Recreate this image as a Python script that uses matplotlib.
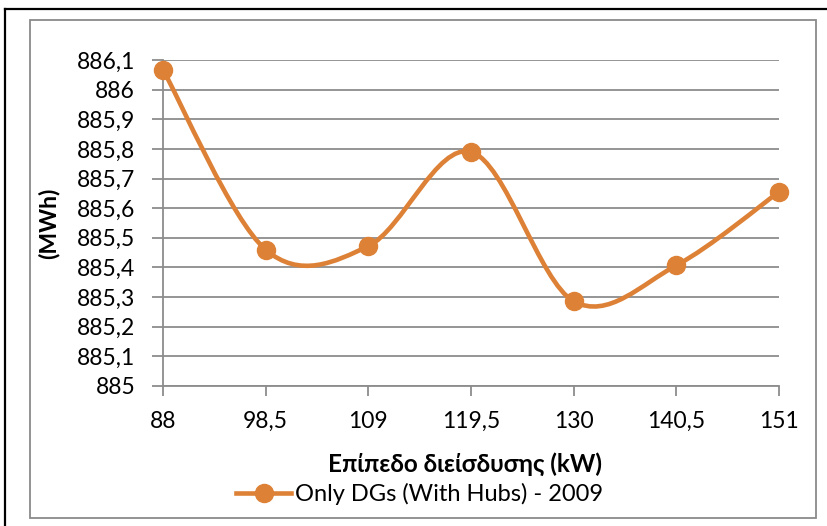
import matplotlib
matplotlib.use("Agg")
import matplotlib.pyplot as plt
from matplotlib.path import Path
from matplotlib.patches import PathPatch, Rectangle
from matplotlib.lines import Line2D
import numpy as np

categories = ["88", "98,5", "109", "119,5", "130", "140,5", "151"]
values = [886.067, 885.460, 885.472, 885.790, 885.286, 885.407, 885.655]
series_name = "Only DGs (With Hubs) - 2009"
y_ticks = [885.0, 885.1, 885.2, 885.3, 885.4, 885.5, 885.6, 885.7, 885.8, 885.9, 886.0, 886.1]
y_tick_labels = ["885", "885,1", "885,2", "885,3", "885,4", "885,5", "885,6",
                 "885,7", "885,8", "885,9", "886", "886,1"]
x_title = "Επίπεδο διείσδυσης (kW)"
y_title = "(MWh)"

FAM = ["Lato", "DejaVu Sans"]
COLOR = "#DD8137"
GRID = "#8C8C8C"
W, H = 827, 526

plt.rcParams["font.family"] = FAM
fig = plt.figure(figsize=(W / 100, H / 100), dpi=100)

# frames
fig.patches.append(Rectangle((30 / W, 1 - 518 / H), (816 - 30) / W, (518 - 20) / H,
                             transform=fig.transFigure, fill=False, edgecolor="#8A8A8A", lw=1.3))
fig.lines.append(Line2D([5 / W, 1.0], [1 - 9 / H, 1 - 9 / H], transform=fig.transFigure, color="black", lw=1.6))
fig.lines.append(Line2D([5 / W, 5 / W], [1 - 9 / H, 0.0], transform=fig.transFigure, color="black", lw=1.6))

ax = fig.add_axes([163 / W, 1 - 386 / H, (779 - 163) / W, (386 - 60) / H])
x = np.arange(len(values))
ax.set_xlim(0, len(values) - 1)
ax.set_ylim(885.0, 886.1)

# smoothed line (Catmull-Rom as cubic Bezier, like Excel's smoothing)
pts = list(zip(x.astype(float), values))
verts = [pts[0]]
codes = [Path.MOVETO]
n = len(pts)
for i in range(n - 1):
    p0 = pts[max(i - 1, 0)]
    p1 = pts[i]
    p2 = pts[i + 1]
    p3 = pts[min(i + 2, n - 1)]
    c1 = (p1[0] + (p2[0] - p0[0]) / 6, p1[1] + (p2[1] - p0[1]) / 6)
    c2 = (p2[0] - (p3[0] - p1[0]) / 6, p2[1] - (p3[1] - p1[1]) / 6)
    verts += [c1, c2, p2]
    codes += [Path.CURVE4] * 3
ax.add_patch(PathPatch(Path(verts, codes), fill=False, edgecolor=COLOR, lw=3.3,
                       capstyle="round", joinstyle="round", zorder=3, clip_on=False))
ax.plot(x, values, linestyle="none", marker="o", markersize=13, color=COLOR, zorder=4, clip_on=False)

# axes styling
for s in ["top", "right"]:
    ax.spines[s].set_visible(False)
for s in ["left", "bottom"]:
    ax.spines[s].set_color(GRID)
    ax.spines[s].set_linewidth(1.3)
ax.set_yticks(y_ticks)
ax.set_yticklabels(y_tick_labels)
ax.set_xticks(x)
ax.set_xticklabels(categories)
ax.yaxis.grid(True, color=GRID, lw=1.3)
ax.set_axisbelow(True)
ax.tick_params(axis="y", length=8, width=1.3, color=GRID, pad=12, labelsize=16.5, labelcolor="black")
ax.tick_params(axis="x", length=7, width=1.3, color=GRID, pad=11, labelsize=16.5, labelcolor="black")

fig.text(49 / W, 1 - 223 / H, y_title, rotation=90, ha="center", va="center",
         fontsize=16.5, fontweight="bold", family=FAM)
fig.text(465 / W, 1 - 464 / H, x_title, ha="center", va="center",
         fontsize=17.5, fontweight="bold", family=FAM)

handle = Line2D([], [], color=COLOR, lw=3.3, marker="o", markersize=13)
fig.legend([handle], [series_name], loc="center", bbox_to_anchor=(420 / W, 1 - 494 / H),
           frameon=False, fontsize=17, handlelength=2.3, handletextpad=0.2,
           borderpad=0, borderaxespad=0)

fig.savefig("out.png", dpi=100)
